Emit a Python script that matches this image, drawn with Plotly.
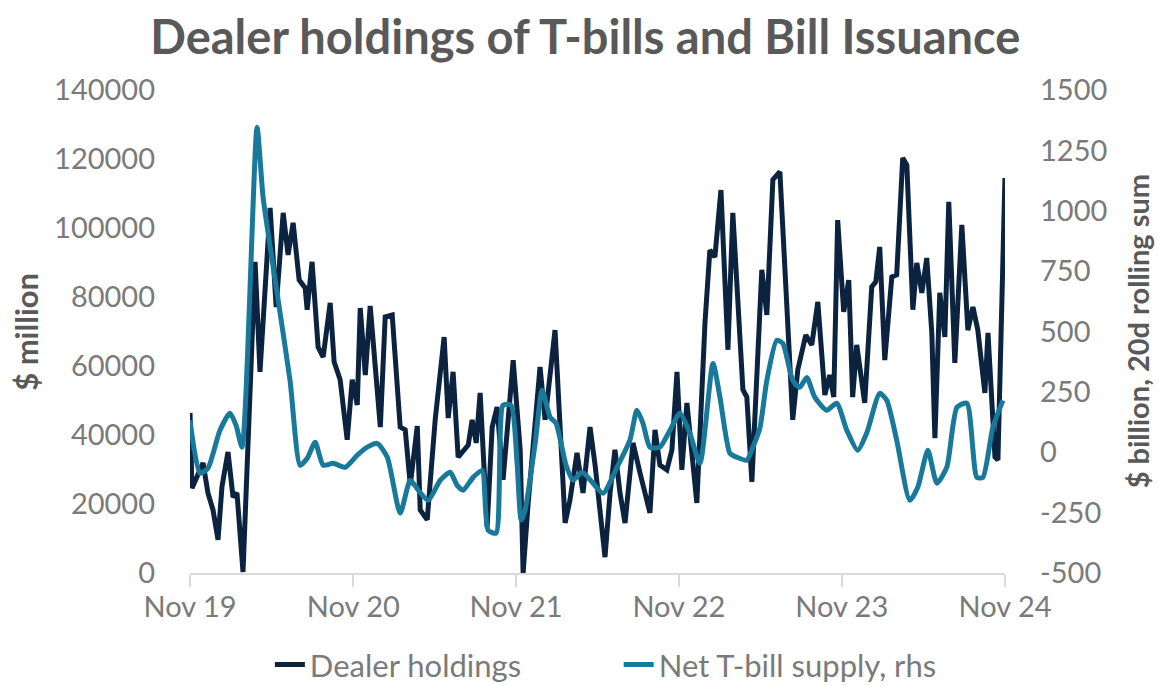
import plotly.graph_objects as go
from datetime import datetime, timedelta

# ---- data (time as decimal year) ----
dealer_t = [2019.833, 2019.845, 2019.913, 2019.943, 2019.974, 2020.005, 2020.029, 2020.066, 2020.097, 2020.121,
            2020.158, 2020.232, 2020.262, 2020.324, 2020.361, 2020.404, 2020.434, 2020.465, 2020.502, 2020.539,
            2020.551, 2020.581, 2020.618, 2020.649, 2020.692, 2020.716, 2020.753, 2020.796, 2020.827, 2020.858,
            2020.876, 2020.907, 2020.937, 2020.974, 2020.999, 2021.029, 2021.072, 2021.121, 2021.152, 2021.183,
            2021.226, 2021.244, 2021.287, 2021.336, 2021.391, 2021.416, 2021.446, 2021.477, 2021.539, 2021.563,
            2021.588, 2021.612, 2021.655, 2021.686, 2021.716, 2021.753, 2021.815, 2021.858, 2021.876, 2021.907,
            2021.950, 2021.980, 2022.011, 2022.072, 2022.134, 2022.164, 2022.207, 2022.244, 2022.287, 2022.318,
            2022.379, 2022.410, 2022.440, 2022.471, 2022.502, 2022.551, 2022.594, 2022.655, 2022.686, 2022.716,
            2022.759, 2022.790, 2022.821, 2022.851, 2022.882, 2022.943, 2022.993, 2023.023, 2023.054, 2023.091,
            2023.134, 2023.164, 2023.226, 2023.250, 2023.281, 2023.342, 2023.373, 2023.410, 2023.453, 2023.532,
            2023.563, 2023.612, 2023.649, 2023.686, 2023.729, 2023.759, 2023.784, 2023.808, 2023.845, 2023.876,
            2023.900, 2023.925, 2023.974, 2024.017, 2024.042, 2024.066, 2024.097, 2024.140, 2024.170, 2024.207,
            2024.232, 2024.269, 2024.293, 2024.324, 2024.354, 2024.385, 2024.404, 2024.434, 2024.465, 2024.489,
            2024.526, 2024.569, 2024.606, 2024.637, 2024.667, 2024.710, 2024.729, 2024.772, 2024.790, 2024.833]
dealer_holdings = [46400, 24600, 31900, 23200, 18300, 9600, 25000, 35100, 22000, 23200,
                   300, 90200, 58300, 105800, 77100, 104400, 92200, 101500, 84900, 82600,
                   76300, 90200, 65500, 62600, 78300, 61200, 56000, 38600, 56000, 48700,
                   76800, 57400, 77400, 56500, 42300, 74200, 74800, 42300, 41500, 25500,
                   42600, 18300, 15400, 44400, 68400, 44900, 58300, 33600, 37100, 44400,
                   37700, 52200, 13300, 42300, 48100, 27000, 61700, 35700, 0, 20300,
                   44400, 59700, 44400, 70400, 14500, 21200, 34800, 23200, 42300, 31300,
                   4600, 23200, 35700, 23200, 14500, 37700, 29000, 17400, 41500, 31300,
                   29900, 35700, 58300, 29900, 49300, 20300, 72500, 93600, 91600, 111000,
                   64700, 104400, 53100, 51000, 26400, 87900, 74800, 114000, 116300, 44400,
                   58900, 69000, 66100, 78600, 51600, 57400, 51000, 102300, 75700, 84900,
                   51000, 66100, 49300, 82900, 84400, 94500, 61700, 85800, 86400, 120300,
                   118300, 76300, 89900, 81200, 91300, 69600, 39100, 81200, 68400, 107600,
                   60900, 100900, 70400, 77100, 70400, 52200, 69600, 33600, 32800, 114500]

supply_t = [2019.833, 2019.894, 2019.943, 2020.017, 2020.078, 2020.115, 2020.152, 2020.244, 2020.281, 2020.367,
            2020.446, 2020.508, 2020.551, 2020.600, 2020.649, 2020.710, 2020.784, 2020.858, 2020.919, 2020.980,
            2021.042, 2021.121, 2021.183, 2021.232, 2021.293, 2021.367, 2021.428, 2021.471, 2021.508, 2021.569,
            2021.624, 2021.661, 2021.710, 2021.753, 2021.802, 2021.839, 2021.864, 2021.888, 2021.950, 2021.993,
            2022.042, 2022.078, 2022.140, 2022.183, 2022.238, 2022.305, 2022.367, 2022.453, 2022.532, 2022.575,
            2022.612, 2022.655, 2022.716, 2022.778, 2022.839, 2022.900, 2022.962, 2023.042, 2023.085, 2023.146,
            2023.189, 2023.250, 2023.287, 2023.330, 2023.373, 2023.434, 2023.471, 2023.532, 2023.575, 2023.618,
            2023.667, 2023.741, 2023.802, 2023.864, 2023.931, 2023.986, 2024.066, 2024.109, 2024.170, 2024.250,
            2024.299, 2024.361, 2024.416, 2024.477, 2024.539, 2024.600, 2024.661, 2024.698, 2024.759, 2024.821]
net_bill_supply = [132, -87, -66, 91, 161, 112, 21, 1345, 1056, 658,
                   298, -54, -25, 41, -54, -46, -62, -12, 21, 37,
                   -21, -252, -116, -157, -199, -116, -83, -137, -157, -104,
                   -75, -323, -335, 195, 195, -46, -281, -240, 37, 257,
                   145, 120, -54, -116, -83, -128, -170, -62, 50, 174,
                   120, 21, 21, 91, 161, 79, -46, 368, 228, -4,
                   -21, -33, 21, 99, 298, 464, 451, 298, 269, 310,
                   228, 174, 203, 91, 8, 79, 244, 215, 50, -199,
                   -145, 8, -128, -62, 186, 203, -104, -104, 103, 215]

x_tick_dates = ["2019-11-01", "2020-11-01", "2021-11-01", "2022-11-01", "2023-11-01", "2024-11-01"]
x_tick_labels = ["Nov 19", "Nov 20", "Nov 21", "Nov 22", "Nov 23", "Nov 24"]
left_ticks = [0, 20000, 40000, 60000, 80000, 100000, 120000, 140000]
left_tick_labels = ["0", "20000", "40000", "60000", "80000", "100000", "120000", "140000"]
right_ticks = [-500, -250, 0, 250, 500, 750, 1000, 1250, 1500]
right_tick_labels = ["-500", "-250", "0", "250", "500", "750", "1000", "1250", "1500"]


def to_date(t):
    y = int(t)
    start = datetime(y, 1, 1)
    days = (datetime(y + 1, 1, 1) - start).days
    return start + timedelta(days=(t - y) * days)


dealer_x = [to_date(t) for t in dealer_t]
supply_x = [to_date(t) for t in supply_t]

DARK = "#0c2340"
TEAL = "#18799a"
GRAY = "#7a7a7a"
TITLE_GRAY = "#595959"
FONT = "Lato"

fig = go.Figure()
fig.add_trace(go.Scatter(x=dealer_x, y=dealer_holdings, name="Dealer holdings", mode="lines",
                         line=dict(color=DARK, width=5), legend="legend"))
fig.add_trace(go.Scatter(x=supply_x, y=net_bill_supply, name="Net T-bill supply, rhs", mode="lines",
                         line=dict(color=TEAL, width=5, shape="spline", smoothing=0.6), yaxis="y2",
                         legend="legend2"))

legend_style = dict(orientation="h", xanchor="left", y=-0.19, yanchor="middle",
                    font=dict(size=31, color=GRAY), bgcolor="rgba(0,0,0,0)")

fig.update_layout(
    width=1159, height=686,
    margin=dict(l=190, r=154, t=90, b=113, autoexpand=False),
    paper_bgcolor="white", plot_bgcolor="white",
    font=dict(family=FONT, color=GRAY, size=29),
    title=dict(text="<b>Dealer holdings of T-bills and Bill Issuance</b>",
               x=0.505, xanchor="center", y=1 - 38 / 686, yanchor="middle",
               font=dict(family=FONT, size=47, color=TITLE_GRAY)),
    showlegend=True,
    legend=dict(x=0.098, **legend_style),
    legend2=dict(x=0.526, **legend_style),
    xaxis=dict(type="date", range=["2019-11-01", "2024-11-01"],
               tickvals=x_tick_dates, ticktext=x_tick_labels,
               showgrid=False, zeroline=False, automargin=False,
               showline=True, linecolor="#d9d9d9", linewidth=2,
               ticks="outside", ticklen=12, tickcolor="#d9d9d9", tickwidth=2,
               ticklabelstandoff=-5,
               tickfont=dict(size=29, color=GRAY)),
    yaxis=dict(range=[0, 140000], tickvals=left_ticks, ticktext=left_tick_labels,
               showgrid=False, zeroline=False, showline=False, automargin=False,
               ticklabelstandoff=34, tickfont=dict(size=29, color=GRAY)),
    yaxis2=dict(range=[-500, 1500], tickvals=right_ticks, ticktext=right_tick_labels,
                overlaying="y", side="right", automargin=False,
                showgrid=False, zeroline=False, showline=False,
                ticklabelstandoff=34, tickfont=dict(size=29, color=GRAY)),
    annotations=[
        dict(text="<b>$ million</b>", textangle=-90, xref="paper", yref="paper",
             x=-0.202, y=0.5, xanchor="center", yanchor="middle", showarrow=False,
             font=dict(family=FONT, size=31, color=TITLE_GRAY)),
        dict(text="<b>$ billion, 20d rolling sum</b>", textangle=-90, xref="paper", yref="paper",
             x=1.163, y=0.5, xanchor="center", yanchor="middle", showarrow=False,
             font=dict(family=FONT, size=29, color=TITLE_GRAY)),
    ],
)

fig.write_html("out.html")
